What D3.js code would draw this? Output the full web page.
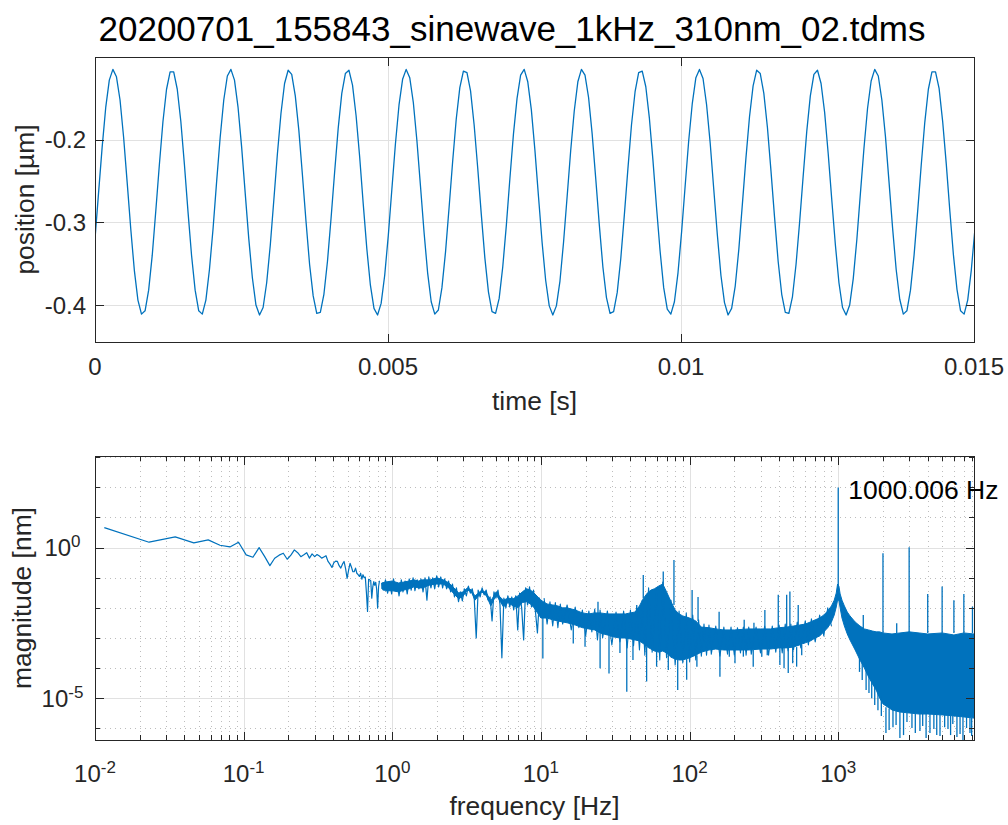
<!DOCTYPE html>
<html>
<head>
<meta charset="utf-8">
<title>sinewave 1 kHz</title>
<script src="https://cdn.jsdelivr.net/npm/d3@7/dist/d3.min.js"></script>
<style>
  html, body { margin: 0; padding: 0; background: #fff; }
  svg { display: block; }
  text { font-family: "Liberation Sans", Arial, Helvetica, sans-serif; }
</style>
</head>
<body>
<svg id="fig" width="1008" height="825"></svg>
<script>
// ------------------------------------------------------------------
// Data
// ------------------------------------------------------------------
const titleText = "20200701_155843_sinewave_1kHz_310nm_02.tdms";

// time-domain record: one position value (µm) per sample
const sampleRate = 16384; // Hz
const position = [
  -0.320,-0.264,-0.209,-0.161,-0.128,-0.115,-0.124,-0.152,-0.197,-0.252,
  -0.308,-0.358,-0.394,-0.411,-0.407,-0.382,-0.340,-0.286,-0.230,-0.178,
  -0.139,-0.118,-0.118,-0.139,-0.178,-0.230,-0.287,-0.340,-0.382,-0.407,
  -0.411,-0.394,-0.357,-0.308,-0.251,-0.197,-0.152,-0.123,-0.115,-0.128,
  -0.161,-0.209,-0.265,-0.320,-0.367,-0.400,-0.412,-0.403,-0.373,-0.328,
  -0.273,-0.217,-0.168,-0.132,-0.116,-0.121,-0.147,-0.189,-0.243,-0.299,
  -0.351,-0.389,-0.410,-0.409,-0.387,-0.347,-0.295,-0.239,-0.186,-0.144,
  -0.120,-0.116,-0.134,-0.171,-0.221,-0.278,-0.332,-0.376,-0.404,-0.412,
  -0.398,-0.364,-0.316,-0.260,-0.205,-0.158,-0.127,-0.115,-0.125,-0.155,
  -0.201,-0.256,-0.312,-0.361,-0.396,-0.411,-0.406,-0.379,-0.336,-0.282,
  -0.226,-0.175,-0.137,-0.117,-0.119,-0.141,-0.182,-0.234,-0.290,-0.343,
  -0.384,-0.408,-0.410,-0.392,-0.354,-0.304,-0.247,-0.193,-0.150,-0.122,
  -0.115,-0.130,-0.164,-0.213,-0.269,-0.324,-0.370,-0.401,-0.412,-0.401,
  -0.371,-0.324,-0.269,-0.213,-0.165,-0.130,-0.115,-0.122,-0.149,-0.193,
  -0.247,-0.303,-0.354,-0.391,-0.410,-0.408,-0.385,-0.344,-0.291,-0.235,
  -0.182,-0.142,-0.119,-0.117,-0.136,-0.174,-0.225,-0.282,-0.335,-0.379,
  -0.405,-0.411,-0.396,-0.361,-0.312,-0.256,-0.201,-0.156,-0.125,-0.115,
  -0.126,-0.158,-0.204,-0.260,-0.315,-0.364,-0.397,-0.412,-0.404,-0.377,
  -0.333,-0.278,-0.222,-0.172,-0.135,-0.116,-0.120,-0.144,-0.185,-0.238,
  -0.294,-0.347,-0.387,-0.409,-0.410,-0.390,-0.351,-0.300,-0.244,-0.190,
  -0.147,-0.121,-0.116,-0.132,-0.167,-0.217,-0.273,-0.327,-0.373,-0.403,
  -0.412,-0.400,-0.368,-0.321,-0.265,-0.210,-0.162,-0.129,-0.115,-0.123,
  -0.152,-0.196,-0.251,-0.307,-0.357,-0.393,-0.411,-0.407,-0.382,-0.340,
  -0.287,-0.231,-0.179,-0.139,-0.118,-0.118,-0.138,-0.178,-0.229,-0.286,
  -0.339,-0.381,-0.407,-0.411,-0.394,-0.358,-0.309
];
const timeTicks = [0, 0.005, 0.01, 0.015];
const timeTickLabels = ["0", "0.005", "0.01", "0.015"];
const positionTicks = [-0.4, -0.3, -0.2];
const positionTickLabels = ["-0.4", "-0.3", "-0.2"];

// spectrum, first bins one by one (nm); bin k sits at k * binWidth
const binWidth = 0.01155; // Hz
const lowBinMag = [
  4.61, 1.51, 2.26, 1.43, 1.80, 1.20, 1.05, 1.51, 0.575, 0.479,
  1.00, 0.50, 0.252, 0.444, 0.562, 0.650, 0.411, 0.562, 0.838, 0.676,
  0.501, 0.575, 0.676, 0.447, 0.617, 0.501, 0.589, 0.525, 0.447, 0.490,
  0.537, 0.347, 0.282, 0.219, 0.316, 0.355, 0.347, 0.251, 0.209, 0.282,
  0.347, 0.200, 0.0955, 0.178, 0.302, 0.224, 0.158, 0.158, 0.209, 0.141,
  0.126, 0.110, 0.141, 0.0891, 0.126, 0.100, 0.105, 0.0316, 0.0076, 0.0891,
  0.0851, 0.0794, 0.0209, 0.0501, 0.0741, 0.0562, 0.0708, 0.0398, 0.0098, 0.0501,
  0.0794
];

// 0.85 - 10 Hz: the trace, alternating between its upper and lower excursions
const traceFreq = [
  0.85, 0.87, 0.90, 0.93, 0.96, 0.99, 1.02, 1.05, 1.08, 1.11,
  1.15, 1.18, 1.22, 1.26, 1.30, 1.34, 1.38, 1.42, 1.47, 1.51,
  1.56, 1.61, 1.66, 1.71, 1.76, 1.82, 1.87, 1.93, 1.99, 2.05,
  2.12, 2.18, 2.25, 2.32, 2.39, 2.47, 2.54, 2.62, 2.70, 2.79,
  2.87, 2.96, 3.05, 3.15, 3.25, 3.35, 3.45, 3.56, 3.67, 3.78,
  3.90, 4.02, 4.15, 4.28, 4.41, 4.55, 4.69, 4.83, 4.98, 5.14,
  5.30, 5.46, 5.63, 5.81, 5.99, 6.17, 6.37, 6.56, 6.77, 6.98,
  7.19, 7.42, 7.65, 7.89, 8.13, 8.38, 8.64, 8.91, 9.19, 9.47,
  9.77, 10.0
];
const traceMag = [
  6.7e-2, 3.9e-2, 8.5e-2, 3.1e-2, 7.2e-2, 2.9e-2, 9.1e-2, 3.7e-2, 6.7e-2, 2.5e-2,
  8.5e-2, 3.4e-2, 7.8e-2, 2.9e-2, 9.1e-2, 3.9e-2, 9.9e-2, 3.7e-2, 8.5e-2, 4.3e-2,
  9.1e-2, 3.4e-2, 9.9e-2, 1.8e-2, 1.06e-1, 4.6e-2, 9.9e-2, 4.3e-2, 1.15e-1, 5.0e-2,
  1.06e-1, 4.6e-2, 9.1e-2, 4.3e-2, 7.8e-2, 3.4e-2, 6.2e-2, 2.3e-2, 4.6e-2, 1.6e-2,
  3.4e-2, 1.7e-2, 4.3e-2, 2.5e-2, 5.3e-2, 3.1e-2, 4.3e-2, 2.0e-2, 1.0e-3, 3.9e-2,
  2.3e-2, 4.6e-2, 2.7e-2, 3.9e-2, 1.8e-2, 2.3e-2, 3.7e-3, 3.4e-2, 2.1e-2, 3.9e-2,
  1.35e-2, 2.2e-4, 2.1e-2, 1.0e-2, 2.5e-2, 1.07e-2, 2.3e-2, 8.5e-3, 2.5e-2, 1.85e-3,
  3.1e-2, 1.0e-2, 8.6e-4, 4.6e-2, 1.25e-2, 5.0e-2, 1.07e-2, 3.9e-2, 7.3e-3, 1.47e-3,
  2.1e-2, 5.0e-3
];

// solid body of the trace: upper / lower extent (nm) per frequency (Hz)
const bandFreq = [
  0.85, 0.9, 1.0, 1.1, 1.2, 1.3, 1.4, 1.5, 1.6, 1.8,
  2.0, 2.2, 2.4, 2.6, 2.8, 3.0, 3.2, 3.4, 3.6, 3.8,
  4.0, 4.3, 4.6, 5.0, 5.3, 5.6, 6.0, 6.5, 7.0, 7.5,
  8.0, 8.5, 9.0,
  10, 11, 12, 13, 14, 15, 17,
  19, 21, 23, 25, 28, 31, 34, 37, 40, 43,
  46, 49, 52, 55, 58, 62, 66, 70, 75, 80,
  85, 90, 100, 110, 120, 135, 150, 170, 200, 250,
  300, 350, 400, 450, 500, 550, 600, 650, 700, 750,
  800, 850, 900, 940, 970, 990, 1010, 1030, 1060, 1100,
  1150, 1200, 1300, 1400, 1500, 1600, 1700, 1800, 1900, 2000,
  2300, 2600, 3000, 3500, 4000, 5000, 6000, 7000, 8192
];
const bandHi = [
  6.7e-2, 7.2e-2, 7.8e-2, 6.7e-2, 7.2e-2, 7.8e-2, 8.5e-2, 7.8e-2, 8.5e-2, 8.5e-2,
  9.9e-2, 8.5e-2, 6.7e-2, 4.6e-2, 3.1e-2, 3.4e-2, 4.6e-2, 3.9e-2, 2.5e-2, 3.1e-2,
  3.9e-2, 3.1e-2, 1.7e-2, 3.4e-2, 2.3e-2, 1.8e-2, 2.1e-2, 2.0e-2, 2.5e-2, 3.4e-2,
  4.3e-2, 3.9e-2, 3.1e-2,
  1.8e-2, 1.35e-2, 1.25e-2, 1.16e-2, 1.0e-2, 1.0e-2, 8.5e-3,
  6.8e-3, 6.3e-3, 6.8e-3, 6.8e-3, 6.3e-3, 6.3e-3, 6.3e-3, 6.3e-3, 6.8e-3, 7.3e-3,
  1.16e-2, 2.1e-2, 3.1e-2, 3.9e-2, 4.3e-2, 5.3e-2, 6.2e-2, 3.4e-2, 1.6e-2, 8.5e-3,
  6.3e-3, 5.4e-3, 4.6e-3, 3.7e-3, 2.3e-3, 2.2e-3, 2.0e-3, 1.85e-3, 1.85e-3, 2.0e-3,
  2.0e-3, 2.0e-3, 2.2e-3, 2.3e-3, 2.5e-3, 2.7e-3, 2.9e-3, 3.4e-3, 4.0e-3, 4.6e-3,
  5.8e-3, 7.9e-3, 1.16e-2, 1.8e-2, 3.1e-2, 6.2e-2, 5.3e-2, 2.9e-2, 1.8e-2, 1.16e-2,
  7.3e-3, 5.4e-3, 3.4e-3, 2.5e-3, 2.0e-3, 1.85e-3, 1.7e-3, 1.6e-3, 1.6e-3, 1.47e-3,
  1.36e-3, 1.47e-3, 1.6e-3, 1.47e-3, 1.36e-3, 1.47e-3, 1.26e-3, 1.47e-3, 1.36e-3
];
const bandLo = [
  4.3e-2, 3.7e-2, 3.7e-2, 3.4e-2, 3.9e-2, 4.3e-2, 5.0e-2, 4.6e-2, 4.6e-2, 5.8e-2,
  6.2e-2, 6.2e-2, 4.6e-2, 2.9e-2, 2.0e-2, 2.5e-2, 3.9e-2, 3.4e-2, 1.8e-2, 2.5e-2,
  3.4e-2, 2.5e-2, 1.16e-2, 2.7e-2, 1.7e-2, 1.07e-2, 1.5e-2, 1.16e-2, 1.0e-2, 1.5e-2,
  1.6e-2, 1.35e-2, 1.0e-2,
  4.6e-3, 4.6e-3, 4.0e-3, 3.7e-3, 3.4e-3, 3.2e-3, 2.7e-3,
  2.2e-3, 2.0e-3, 1.85e-3, 1.47e-3, 1.26e-3, 1.08e-3, 1.0e-3, 1.0e-3, 9.3e-4, 8.6e-4,
  8.0e-4, 6.4e-4, 5.0e-4, 4.3e-4, 3.7e-4, 3.4e-4, 3.7e-4, 3.2e-4, 2.3e-4, 2.0e-4,
  1.87e-4, 1.87e-4, 2.2e-4, 2.7e-4, 3.4e-4, 4.0e-4, 4.3e-4, 4.0e-4, 4.0e-4, 4.0e-4,
  4.3e-4, 4.3e-4, 4.7e-4, 4.7e-4, 5.0e-4, 5.9e-4, 6.9e-4, 8.0e-4, 1.0e-3, 1.17e-3,
  1.6e-3, 2.2e-3, 3.4e-3, 5.8e-3, 1.07e-2, 1.8e-2, 1.8e-2, 1.0e-2, 4.6e-3, 2.5e-3,
  1.36e-3, 8.6e-4, 4.0e-4, 1.87e-4, 1.01e-4, 5.1e-5, 3.0e-5, 1.88e-5, 1.02e-5, 6.5e-6,
  4.1e-6, 3.5e-6, 3.25e-6, 3.0e-6, 3.0e-6, 2.8e-6, 2.6e-6, 2.4e-6, 2.2e-6
];

// 10 - 900 Hz: ragged edge of the dense trace, alternating upper / lower excursions (nm)
const edgeFreq = [
  10.5, 11, 11.5, 12, 12.5, 13, 13.5, 14, 15, 16,
  17, 18, 19, 20, 21, 22, 23, 24, 25, 26,
  28, 30, 32, 34, 36, 38, 40, 42, 44, 46,
  48, 50, 53, 56, 60, 63, 66, 70, 75, 80,
  85, 90, 95, 100, 105, 110, 115, 120, 125, 130,
  135, 140, 150, 160, 170, 180, 190, 200, 210, 220,
  230, 240, 250, 260, 280, 300, 320, 340, 360, 380,
  400, 420, 440, 460, 480, 500, 530, 560, 600, 630,
  660, 700, 750, 800, 850, 900
];
const edgeMag = [
  2.1e-2, 2.9e-3, 1.6e-2, 2.5e-3, 1.5e-2, 2.2e-3, 1.35e-2, 2.9e-3, 1.25e-2, 1.85e-3,
  1.07e-2, 2.2e-3, 8.5e-3, 1.17e-3, 7.9e-3, 1.6e-3, 9.2e-3, 8.6e-4, 8.5e-3, 1.0e-3,
  7.9e-3, 5.9e-4, 7.3e-3, 7.4e-4, 7.9e-3, 4.7e-4, 8.5e-3, 5.5e-4, 1.0e-2, 4.0e-4,
  1.8e-2, 2.7e-4, 4.6e-2, 3.4e-4, 3.9e-2, 1.87e-4, 7.2e-2, 2.2e-4, 1.8e-2, 1.27e-4,
  7.9e-3, 1.48e-4, 6.8e-3, 1.6e-4, 5.8e-3, 1.87e-4, 4.0e-3, 2.5e-4, 2.9e-3, 2.7e-4,
  2.7e-3, 2.9e-4, 2.5e-3, 2.5e-4, 2.3e-3, 2.9e-4, 2.3e-3, 2.7e-4, 2.2e-3, 3.2e-4,
  2.3e-3, 2.7e-4, 2.3e-3, 2.9e-4, 2.3e-3, 3.2e-4, 2.5e-3, 2.7e-4, 2.5e-3, 3.4e-4,
  2.7e-3, 3.2e-4, 2.9e-3, 3.7e-4, 2.9e-3, 4.0e-4, 3.4e-3, 4.7e-4, 3.7e-3, 5.9e-4,
  4.3e-3, 7.4e-4, 5.8e-3, 1.17e-3, 1.0e-2, 2.5e-3
];

// narrow lines rising above the trace: frequency (Hz), top (nm), foot (nm)
const spikeFreq = [24.2, 44.1, 48.8, 66.5, 78.5, 104, 114, 158, 233, 271, 321, 395, 450, 473, 538,
                   1000.006, 1474, 2000, 2474, 3000, 4000, 5000, 6000, 7000, 8000];
const spikeTop  = [1.6e-2, 1.25e-2, 0.124, 0.16, 0.39, 3.9e-2, 2.3e-2, 7.5e-3, 4.0e-3, 3.2e-3, 8.5e-3, 2.7e-2, 2.7e-2, 3.5e-2, 1.25e-2,
                   98, 5.8e-3, 0.65, 3.1e-3, 1.03, 2.9e-2, 5.1e-2, 1.8e-2, 2.9e-2, 1.1e-2];
const spikeBase = [6.8e-3, 7.3e-3, 2.1e-2, 5.3e-2, 1.25e-2, 4.0e-3, 3.7e-3, 2.0e-3, 1.85e-3, 2.0e-3, 2.0e-3, 2.2e-3, 2.3e-3, 2.3e-3, 2.7e-3,
                   1.8e-2, 2.0e-3, 1.47e-3, 1.47e-3, 1.47e-3, 1.47e-3, 1.47e-3, 1.47e-3, 1.47e-3, 1.47e-3];

// narrow notches dropping below the trace: frequency (Hz), bottom (nm), foot (nm)
const dipFreq = [10.3, 16.5, 19.8, 25.0, 28.7, 34.0, 37.8, 41.6, 51.4, 60,
                 71.9, 83.2, 95.6, 112, 160, 185, 202, 230, 268, 306,
                 333, 405, 432, 461, 494, 525, 568,
                 1390, 1450, 1540, 1610, 1680, 1760, 1850, 1950,
                 2094, 2200, 2335, 2450, 2600, 2750, 2900, 3133, 3300, 3545,
                 3700, 3900, 4141, 4400, 4600, 4838, 5200, 5475, 5700, 5900,
                 6289, 6600, 6905, 7300, 7696, 7900];
const dipBottom = [2.1e-4, 6.6e-4, 5.1e-4, 1.0e-4, 6.6e-5, 3.2e-4, 1.66e-5, 1.87e-4, 3.6e-5, 1.12e-4,
                   8.7e-5, 1.88e-5, 4.1e-5, 1.12e-4, 5.2e-5, 2.4e-4, 1.45e-4, 2.4e-4, 1.12e-4, 2.4e-4,
                   2.7e-4, 1.27e-4, 1.0e-4, 6.9e-5, 1.45e-4, 1.12e-4, 2.7e-4,
                   7.5e-5, 4.0e-5, 1.88e-5, 1.5e-5, 1.0e-5, 6.0e-6, 4.0e-6, 2.6e-6,
                   7.0e-7, 8.9e-7, 1.1e-6, 1.3e-6, 4.8e-7, 6.0e-7, 1.63e-6, 1.03e-6, 7.0e-7, 8.2e-7,
                   1.2e-6, 4.8e-7, 7.0e-7, 9.6e-7, 6.0e-7, 5.6e-7, 1.1e-6, 9.6e-7, 6.0e-7, 1.4e-6,
                   5.2e-7, 6.5e-7, 4.1e-7, 1.03e-6, 7.0e-7, 5.6e-7];
const dipBase = [4.6e-3, 2.8e-3, 2.1e-3, 1.5e-3, 1.2e-3, 1.0e-3, 1.0e-3, 9.0e-4, 5.0e-4, 3.6e-4,
                 3.2e-4, 1.9e-4, 2.0e-4, 2.7e-4, 4.3e-4, 4.0e-4, 4.0e-4, 4.0e-4, 4.0e-4, 4.3e-4,
                 4.3e-4, 4.7e-4, 4.7e-4, 4.7e-4, 5.0e-4, 5.0e-4, 5.9e-4,
                 2.5e-4, 1.5e-4, 1.2e-4, 8.0e-5, 4.0e-5, 3.0e-5, 2.0e-5, 1.2e-5,
                 5.0e-6, 4.6e-6, 4.1e-6, 3.8e-6, 3.5e-6, 3.4e-6, 3.3e-6, 3.2e-6, 3.1e-6, 3.0e-6,
                 3.0e-6, 3.0e-6, 3.0e-6, 3.0e-6, 2.9e-6, 2.8e-6, 2.8e-6, 2.7e-6, 2.7e-6, 2.6e-6,
                 2.6e-6, 2.5e-6, 2.4e-6, 2.4e-6, 2.3e-6, 2.3e-6];

const freqDecades = [-2, -1, 0, 1, 2, 3];   // labelled x ticks 10^n
const magMajorExp = [-5, 0];                // labelled y ticks 10^n

// ------------------------------------------------------------------
// Drawing
// ------------------------------------------------------------------
const svg = d3.select("#fig");
const C = { line: "#0072BD", axis: "#262626", grid: "#e1e1e1", minor: "#bdbdbd", text: "#262626" };
const FS = { tick: 24, sup: 17, label: 26.4, title: 35, note: 26.5 };
const crisp = v => Math.round(v) + 0.5;

svg.append("text")
  .attr("x", 512).attr("y", 41)
  .attr("text-anchor", "middle")
  .attr("font-size", FS.title)
  .attr("fill", "#000")
  .text(titleText);

function clip(id, P) {
  svg.append("clipPath").attr("id", id).append("rect")
    .attr("x", P.l).attr("y", P.t).attr("width", P.r - P.l).attr("height", P.b - P.t);
}
function vLines(g, xs, P, color, dash) {
  g.append("g").selectAll("line").data(xs).join("line")
    .attr("x1", d => crisp(d)).attr("x2", d => crisp(d))
    .attr("y1", P.t).attr("y2", P.b)
    .attr("stroke", color).attr("stroke-width", 1)
    .attr("stroke-dasharray", dash || null)
    .attr("shape-rendering", "crispEdges");
}
function hLines(g, ys, P, color, dash) {
  g.append("g").selectAll("line").data(ys).join("line")
    .attr("y1", d => crisp(d)).attr("y2", d => crisp(d))
    .attr("x1", P.l).attr("x2", P.r)
    .attr("stroke", color).attr("stroke-width", 1)
    .attr("stroke-dasharray", dash || null)
    .attr("shape-rendering", "crispEdges");
}
// inward tick marks on all four sides
function ticks(g, xs, ys, P, len) {
  const t = g.append("g").attr("stroke", C.axis).attr("stroke-width", 1).attr("shape-rendering", "crispEdges");
  xs.forEach(x => {
    t.append("line").attr("x1", crisp(x)).attr("x2", crisp(x)).attr("y1", P.b).attr("y2", P.b - len);
    t.append("line").attr("x1", crisp(x)).attr("x2", crisp(x)).attr("y1", P.t).attr("y2", P.t + len);
  });
  ys.forEach(y => {
    t.append("line").attr("y1", crisp(y)).attr("y2", crisp(y)).attr("x1", P.l).attr("x2", P.l + len);
    t.append("line").attr("y1", crisp(y)).attr("y2", crisp(y)).attr("x1", P.r).attr("x2", P.r - len);
  });
}
function box(g, P) {
  g.append("rect")
    .attr("x", crisp(P.l)).attr("y", crisp(P.t))
    .attr("width", Math.round(P.r - P.l)).attr("height", Math.round(P.b - P.t))
    .attr("fill", "none").attr("stroke", C.axis).attr("stroke-width", 1)
    .attr("shape-rendering", "crispEdges");
}
function yLabel(text, x, P) {
  const cy = (P.t + P.b) / 2;
  svg.append("text")
    .attr("transform", `translate(${x},${cy}) rotate(-90)`)
    .attr("text-anchor", "middle")
    .attr("font-size", FS.label).attr("fill", C.text)
    .text(text);
}
function powerLabel(sel, exp) {
  sel.append("tspan").text("10");
  sel.append("tspan").attr("dy", -9).attr("font-size", FS.sup).text(String(exp));
}

// ---------------- time-domain panel ----------------
const P1 = { l: 95, r: 974, t: 57, b: 342 };
const x1 = d3.scaleLinear([0, 0.015], [P1.l, P1.r]);
const y1 = d3.scaleLinear([-0.4447, -0.1], [P1.b, P1.t]);
clip("clipTime", P1);
const g1 = svg.append("g");

vLines(g1, timeTicks.map(x1), P1, C.grid);
hLines(g1, positionTicks.map(y1), P1, C.grid);

const sampleTimes = position.map((v, i) => i / sampleRate);
g1.append("path")
  .datum(position)
  .attr("clip-path", "url(#clipTime)")
  .attr("fill", "none")
  .attr("stroke", C.line).attr("stroke-width", 1.3)
  .attr("stroke-linejoin", "round")
  .attr("d", d3.line().x((d, i) => x1(sampleTimes[i])).y(d => y1(d)));

ticks(g1, timeTicks.map(x1), positionTicks.map(y1), P1, 8.5);
box(g1, P1);

g1.append("g").selectAll("text").data(timeTicks).join("text")
  .attr("x", d => x1(d)).attr("y", 375)
  .attr("text-anchor", "middle")
  .attr("font-size", FS.tick).attr("fill", C.text)
  .text((d, i) => timeTickLabels[i]);
g1.append("g").selectAll("text").data(positionTicks).join("text")
  .attr("x", 86).attr("y", d => y1(d) + 8.5)
  .attr("text-anchor", "end")
  .attr("font-size", FS.tick).attr("fill", C.text)
  .text((d, i) => positionTickLabels[i]);

svg.append("text")
  .attr("x", (P1.l + P1.r) / 2).attr("y", 410)
  .attr("text-anchor", "middle")
  .attr("font-size", FS.label).attr("fill", C.text)
  .text("time [s]");
yLabel("position [\u00B5m]", 34, P1);

// ---------------- spectrum panel ----------------
const P2 = { l: 95, r: 974, t: 456, b: 740 };
const x2 = d3.scaleLog([0.01, 8192], [P2.l, P2.r]);
const y2 = d3.scaleLog([Math.pow(10, -6.385), Math.pow(10, 3.04)], [P2.b, P2.t]);
clip("clipSpec", P2);
const g2 = svg.append("g");

// tick positions
const xMajor = freqDecades.map(e => Math.pow(10, e));
const xMinor = [];
freqDecades.forEach(e => d3.range(2, 10).forEach(m => {
  const v = m * Math.pow(10, e);
  if (v < 8192) xMinor.push(v);
}));
const yMajor = magMajorExp.map(e => Math.pow(10, e));
const yMinor = d3.range(-6, 4).filter(e => !magMajorExp.includes(e)).map(e => Math.pow(10, e));

vLines(g2, xMinor.map(x2), P2, C.minor, "1,4");
hLines(g2, yMinor.map(y2), P2, C.minor, "1,4");
vLines(g2, xMajor.map(x2), P2, C.grid);
hLines(g2, yMajor.map(y2), P2, C.grid);

const spec = g2.append("g").attr("clip-path", "url(#clipSpec)");
const lineStyle = sel => sel.attr("fill", "none").attr("stroke", C.line)
  .attr("stroke-width", 1.2).attr("stroke-linejoin", "round");

// individual low-frequency bins
spec.append("path").datum(lowBinMag).call(lineStyle)
  .attr("d", d3.line().x((d, i) => x2((i + 1) * binWidth)).y(d => y2(d)));

// solid body of the trace
const band = bandFreq.map((f, i) => ({ f, hi: bandHi[i], lo: bandLo[i] }));
spec.append("path")
  .datum(band)
  .attr("fill", C.line)
  .attr("stroke", C.line).attr("stroke-width", 1)
  .attr("stroke-linejoin", "round")
  .attr("d", d3.area().x(d => x2(d.f)).y0(d => y2(d.lo)).y1(d => y2(d.hi)));

// 0.85 - 10 Hz excursions
spec.append("path").datum(traceMag).call(lineStyle)
  .attr("d", d3.line().x((d, i) => x2(traceFreq[i])).y(d => y2(d)));

// ragged edge of the dense trace
spec.append("path").datum(edgeMag).call(lineStyle)
  .attr("stroke-width", 1.1)
  .attr("d", d3.line().x((d, i) => x2(edgeFreq[i])).y(d => y2(d)));

// narrow spectral lines and notches
spec.append("g").selectAll("line").data(spikeFreq).join("line")
  .attr("x1", d => x2(d)).attr("x2", d => x2(d))
  .attr("y1", (d, i) => y2(spikeBase[i])).attr("y2", (d, i) => y2(spikeTop[i]))
  .attr("stroke", C.line).attr("stroke-width", 1.3);
spec.append("g").selectAll("line").data(dipFreq).join("line")
  .attr("x1", d => x2(d)).attr("x2", d => x2(d))
  .attr("y1", (d, i) => y2(dipBase[i])).attr("y2", (d, i) => y2(dipBottom[i]))
  .attr("stroke", C.line).attr("stroke-width", 1.3);

ticks(g2, xMajor.map(x2), yMajor.map(y2), P2, 8.5);
ticks(g2, xMinor.map(x2), yMinor.map(y2), P2, 5);
box(g2, P2);

// tick labels 10^n
g2.append("g").selectAll("text").data(freqDecades).join("text")
  .attr("x", d => x2(Math.pow(10, d))).attr("y", 782)
  .attr("text-anchor", "middle")
  .attr("font-size", FS.tick).attr("fill", C.text)
  .each(function (d) { powerLabel(d3.select(this), d); });
g2.append("g").selectAll("text").data(magMajorExp).join("text")
  .attr("x", 62.5).attr("y", d => y2(Math.pow(10, d)) + 8.5)
  .attr("text-anchor", "middle")
  .attr("font-size", FS.tick).attr("fill", C.text)
  .each(function (d) { powerLabel(d3.select(this), d); });

svg.append("text")
  .attr("x", (P2.l + P2.r) / 2).attr("y", 814.5)
  .attr("text-anchor", "middle")
  .attr("font-size", FS.label).attr("fill", C.text)
  .text("frequency [Hz]");
yLabel("magnitude [nm]", 31, P2);

// annotation at the strongest line
const iPeak = d3.maxIndex(spikeTop);
svg.append("text")
  .attr("x", x2(spikeFreq[iPeak]) + 10)
  .attr("y", y2(spikeTop[iPeak]) + 11.5)
  .attr("font-size", FS.note).attr("fill", "#000")
  .text(`${spikeFreq[iPeak].toFixed(3)} Hz`);
</script>
</body>
</html>
